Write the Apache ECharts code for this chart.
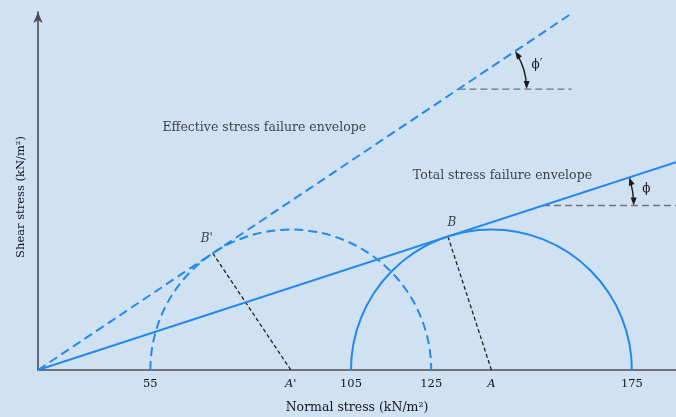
<!DOCTYPE html>
<html>
<head>
<meta charset="utf-8">
<script src="https://cdn.jsdelivr.net/npm/echarts@6/dist/echarts.min.js"></script>
<style>
  html, body { margin: 0; padding: 0; background: #d0e2f2; }
  #chart { width: 676px; height: 417px; }
</style>
</head>
<body>
<div id="chart"></div>
<script>
// Consolidated-undrained triaxial test at failure (kN/m²)
const circleNames   = ['Effective stress', 'Total stress'];
const sigma3        = [55, 105];          // minor principal stress
const sigma1        = [125, 175];         // major principal stress
const centreLabels  = ["A'", 'A'];
const tangentLabels = ["B'", 'B'];
const envelopeNames = ['Effective stress failure envelope', 'Total stress failure envelope'];
const angleLabels   = ['\u03D5\u2032', '\u03D5'];
const tickValues    = [55, 105, 125, 175];

// Axis extent (normal stress); the envelopes radiate from the axis origin
const xMin = 27, xMax = 186;

// Annotation layout (data coordinates)
const envelopeEnd   = [160, xMax];        // where each envelope line stops
const angleMarkTau  = [70, 41];           // shear level of the horizontal angle reference
const angleMarkEnd  = [160, xMax];
const angleArcR     = [17, 22.6];         // radius of the angle arrow
const envelopeTextAt = [[58, 60.3], [120.4, 48.3]];

const grid = { left: 38, right: 0, top: 12, bottom: 47 };
const W = 676, H = 417;
const gridW = W - grid.left - grid.right;
const gridH = H - grid.top - grid.bottom;
// equal scale on both axes so the Mohr circles stay round
const yMax = (xMax - xMin) * gridH / gridW;

const BLUE = '#2489ef';
const INK = '#141420';
const SERIF = '"DejaVu Serif", serif';

// Geometry of each circle and its tangent envelope through the origin
const geo = sigma3.map((s3, i) => {
  const c = (s3 + sigma1[i]) / 2;
  const r = (sigma1[i] - s3) / 2;
  const d = c - xMin;
  const phi = Math.asin(r / d);
  const L = Math.sqrt(d * d - r * r);
  const tangent = [xMin + L * Math.cos(phi), L * Math.sin(phi)];
  return { c, r, phi, tangent };
});

const series = [];

geo.forEach((g, i) => {
  const dashed = i === 0;
  const tanPhi = Math.tan(g.phi);

  // Mohr circle (upper half)
  series.push({
    type: 'custom',
    name: circleNames[i],
    data: [[g.c, g.r]],
    clip: false,
    z: 3,
    renderItem: (params, api) => {
      const p = api.coord([api.value(0), 0]);
      const rr = api.size([api.value(1), 0])[0];
      return {
        type: 'arc',
        shape: { cx: p[0], cy: p[1], r: rr, startAngle: Math.PI, endAngle: 2 * Math.PI, clockwise: true },
        style: { stroke: BLUE, lineWidth: 2, fill: null, lineDash: dashed ? [9, 5] : null }
      };
    }
  });

  // Failure envelope
  series.push({
    type: 'line',
    name: envelopeNames[i],
    data: [[xMin, 0], [envelopeEnd[i], (envelopeEnd[i] - xMin) * tanPhi]],
    symbol: 'none',
    clip: true,
    z: 4,
    lineStyle: { color: BLUE, width: 2, type: dashed ? [9, 5] : 'solid' }
  });

  // Radius from tangent point to centre
  series.push({
    type: 'line',
    data: [g.tangent, [g.c, 0]],
    symbol: 'none',
    z: 2,
    lineStyle: { color: '#222', width: 1.3, type: [4, 2.5] }
  });

  // Horizontal reference for the friction angle
  const tau = angleMarkTau[i];
  const xEnv = xMin + tau / tanPhi;
  series.push({
    type: 'line',
    data: [[xEnv, tau], [angleMarkEnd[i], tau]],
    symbol: 'none',
    z: 2,
    lineStyle: { color: '#737380', width: 1.3, type: [7, 4] }
  });

  // Double-headed angle arrow and its label
  series.push({
    type: 'custom',
    data: [[xEnv, tau, angleArcR[i]]],
    clip: false,
    z: 5,
    renderItem: (params, api) => {
      const o = api.coord([api.value(0), api.value(1)]);
      const R = api.size([api.value(2), 0])[0];
      const a0 = -g.phi, a1 = 0;
      const head = (theta, dir) => {
        const tip = [o[0] + R * Math.cos(theta), o[1] + R * Math.sin(theta)];
        const len = 8, w = 3;
        const back = [tip[0] - dir[0] * len, tip[1] - dir[1] * len];
        const n = [-dir[1], dir[0]];
        return {
          type: 'polygon',
          shape: { points: [tip, [back[0] + n[0] * w, back[1] + n[1] * w], [back[0] - n[0] * w, back[1] - n[1] * w]] },
          style: { fill: '#1a1a1a' }
        };
      };
      const lab = -g.phi / 2;
      return {
        type: 'group',
        children: [
          {
            type: 'arc',
            shape: { cx: o[0], cy: o[1], r: R, startAngle: a0 + 0.06, endAngle: a1 - 0.04, clockwise: true },
            style: { stroke: '#1a1a1a', lineWidth: 1.4, fill: null }
          },
          head(a0, [Math.sin(a0), -Math.cos(a0)]),
          head(a1, [-Math.sin(a1), Math.cos(a1)]),
          {
            type: 'text',
            x: o[0] + (R + 14) * Math.cos(lab),
            y: o[1] + (R + 14) * Math.sin(lab),
            style: { text: angleLabels[i], font: '12px ' + SERIF, fill: INK, align: 'center', verticalAlign: 'middle' }
          }
        ]
      };
    }
  });

  // Tangent point label
  series.push({
    type: 'scatter',
    data: [g.tangent],
    symbolSize: 0,
    z: 6,
    label: {
      show: true,
      formatter: tangentLabels[i],
      position: 'top',
      offset: dashed ? [-6, -3] : [4, -3],
      fontFamily: SERIF, fontStyle: 'italic', fontSize: 12, color: INK
    }
  });

  // Envelope caption
  series.push({
    type: 'scatter',
    data: [envelopeTextAt[i]],
    symbolSize: 0,
    z: 6,
    label: {
      show: true,
      formatter: envelopeNames[i],
      position: 'right',
      distance: 0,
      fontFamily: SERIF, fontSize: 12.5, color: INK
    }
  });
});

const centreValues = geo.map(g => g.c);

const chart = echarts.init(document.getElementById('chart'), null, { renderer: 'canvas' });
chart.setOption({
  backgroundColor: '#d0e2f2',
  animation: false,
  grid: Object.assign({ containLabel: false, outerBoundsMode: 'none' }, grid),
  xAxis: {
    type: 'value',
    min: xMin,
    max: xMax,
    name: 'Normal stress (kN/m\u00B2)',
    nameLocation: 'middle',
    nameGap: 31,
    nameTextStyle: { fontFamily: SERIF, fontSize: 12.5, color: INK },
    axisLine: { lineStyle: { color: '#4d4d55', width: 1.6 } },
    axisTick: { show: false },
    splitLine: { show: false },
    axisLabel: {
      customValues: tickValues.concat(centreValues),
      margin: 8,
      fontFamily: SERIF,
      fontSize: 11.5,
      color: INK,
      formatter: v => {
        const k = centreValues.indexOf(v);
        return k >= 0 ? '{i|' + centreLabels[k] + '}' : String(v);
      },
      rich: { i: { fontFamily: SERIF, fontStyle: 'italic', fontSize: 11.5, color: INK } }
    }
  },
  yAxis: {
    type: 'value',
    min: 0,
    max: yMax,
    name: 'Shear stress (kN/m\u00B2)',
    nameLocation: 'middle',
    nameGap: 11,
    nameRotate: 90,
    nameTextStyle: { fontFamily: SERIF, fontSize: 11.5, color: INK, padding: [0, 12, 0, 0] },
    axisLine: { symbol: ['none', 'arrow'], symbolSize: [7, 11], lineStyle: { color: '#4d4d55', width: 1.6 } },
    axisTick: { show: false },
    axisLabel: { show: false },
    splitLine: { show: false }
  },
  series
});
</script>
</body>
</html>
